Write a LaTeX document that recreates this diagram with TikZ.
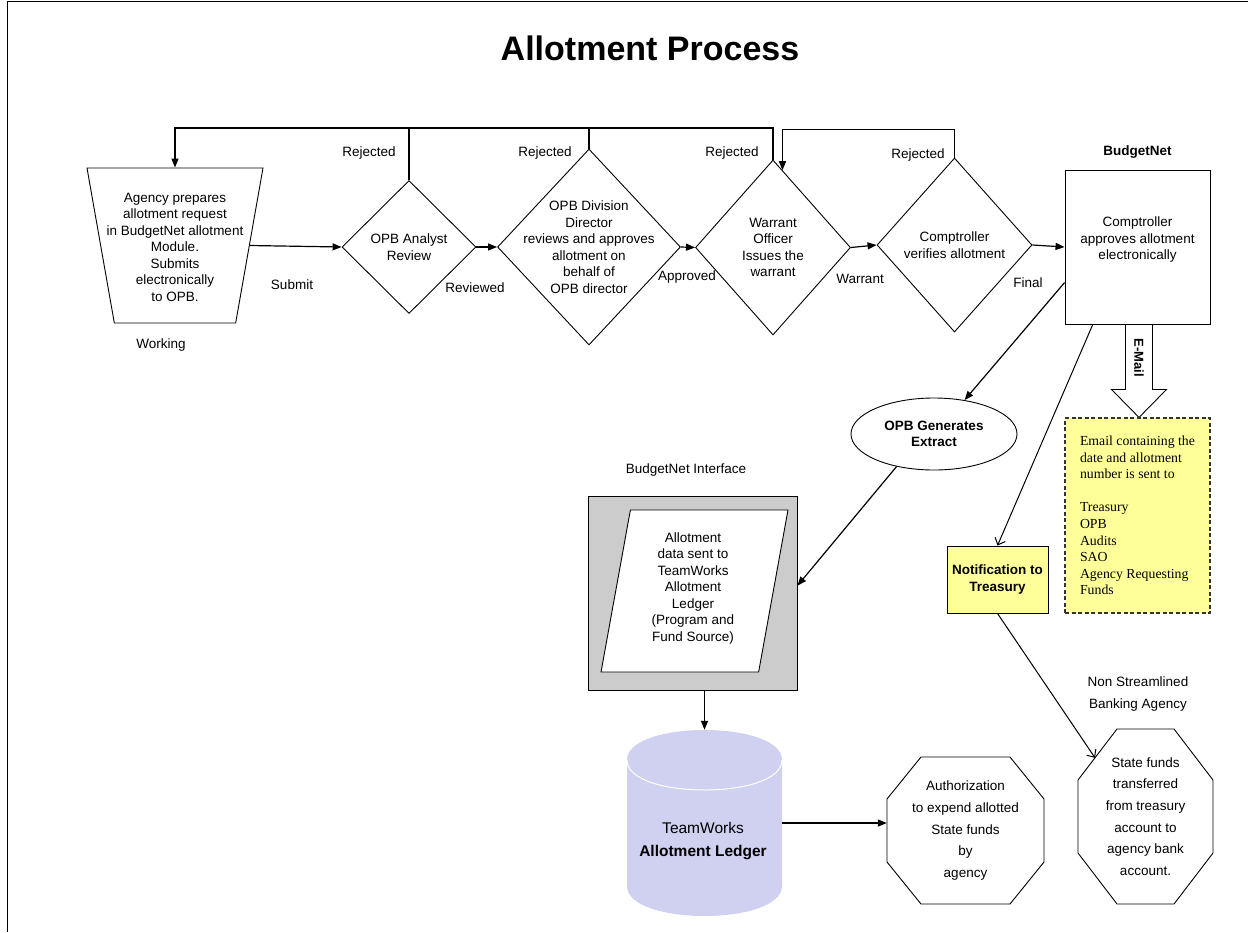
\documentclass[tikz,border=0pt]{standalone}
\usepackage{fontspec}
\setmainfont{Liberation Sans}
\newfontfamily\mailfont{Liberation Serif}
\usetikzlibrary{
    arrows.meta,
    shapes.geometric,
    positioning,
    calc
}
\definecolor{notefill}{RGB}{255,255,153}
\definecolor{ledgerfill}{RGB}{208,208,240}
\definecolor{portalfill}{RGB}{204,204,204}
\tikzset{
    base/.style={font=\fontsize{13.5}{16.5}\selectfont, align=center},
    decision/.style={draw, diamond, line width=0.9pt, inner sep=2pt},
    boxed/.style={draw, line width=0.9pt, inner sep=2pt},
    flow/.style={-{Triangle[length=9pt,width=7pt]}, line width=1.2pt},
    notify/.style={-{Straight Barb[length=6pt,width=11pt]}, line width=1pt},
    bold/.style={font=\bfseries\fontsize{13.5}{16.5}\selectfont}
}

\begin{document}
\begin{tikzpicture}[x=1pt, y=-1pt, every node/.style={base}]
\useasboundingbox (0,0) rectangle (1248,932);
\draw[line width=1.6pt] (7.5,932) -- (7.5,1.5) -- (1248,1.5);
\node[font=\bfseries\fontsize{34}{40}\selectfont] (title) at (650,48) {Allotment Process};

\node[boxed, trapezium, shape border rotate=180, trapezium angle=77.3,
    trapezium stretches=true, minimum width=176, minimum height=155]
    (agency) at (175,245.5) {};
\node (agencytext) at (175,247) {Agency prepares\\allotment request\\in BudgetNet allotment\\Module.\\Submits\\electronically\\to OPB.};
\node (working) at (161,345) {Working};

\node[decision, minimum width=134, minimum height=133] (review) at (409,247) {};
\node (reviewtext) at (review) {OPB Analyst\\Review};
\node[decision, minimum width=183, minimum height=196] (director) at (589,247) {};
\node (directortext) at (director) {OPB Division\\Director\\reviews and approves\\allotment on\\behalf of\\OPB director};
\node[decision, minimum width=155, minimum height=175] (officer) at (773,247.5) {};
\node (officertext) at (officer) {Warrant\\Officer\\Issues the\\warrant};
\node[decision, minimum width=155, minimum height=174] (verify) at (954.5,245) {};
\node (verifytext) at (verify) {Comptroller\\verifies allotment};
\node[boxed, minimum width=145, minimum height=154] (approve) at (1137.5,247) {};
\node (approvetext) at (1137.5,240) {Comptroller\\approves allotment\\electronically};
\node[bold, above=8pt of approve] (budgetnet) {BudgetNet};

% forward path
\draw[flow] (agency.east) -- (review.west);
\draw[flow] (review.east) -- (director.west);
\draw[flow] (director.east) -- (officer.west);
\draw[flow] (officer.east) -- (verify.west);
\draw[flow] (verify.east) -- (approve.west);
\node (submit) at (292,285) {Submit};
\node (reviewed) at (475,288) {Reviewed};
\node (approved) at (687,277) {Approved};
\node (warrant) at (860,279) {Warrant};
\node (final) at (1028,283) {Final};

% rejections
\coordinate (loopa) at (0,128);
\coordinate (loopb) at (0,129.5);
\draw[flow] (officer.north) -- (officer.north |- loopa) -| (agency.north);
\draw[line width=1.2pt] (review.north) -- (review.north |- loopa);
\draw[line width=1.2pt] (director.north) -- (director.north |- loopa);
\draw[flow] (verify.north) -- (verify.north |- loopb) -| (officer.83);
\node (rej1) at (369,153) {Rejected};
\node (rej2) at (545,153) {Rejected};
\node (rej3) at (732,153) {Rejected};
\node (rej4) at (918,155) {Rejected};

% e-mail
\draw[line width=0.9pt, shift={(approve.south)}]
    (-12,0) -- (-12,65) -- (-26,65) -- (1.5,93) -- (29,65) -- (15,65) -- (15,0);
\node[rotate=-90, font=\bfseries\fontsize{13}{16}\selectfont] (mailtag) at (1139,358) {E-Mail};
\node[draw=black!80, line width=1.1pt, dash pattern=on 4pt off 2.5pt, fill=notefill,
    minimum width=145, minimum height=195, align=left, xshift=-2pt,
    font=\mailfont\fontsize{13.8}{16.6}\selectfont] (mailbox) at (1139.5,515.5)
    {Email containing the\\date and allotment\\number is sent to\\[16.6pt]Treasury\\OPB\\Audits\\SAO\\Agency Requesting\\Funds};

% extract
\node[boxed, ellipse, minimum width=166, minimum height=72, bold] (extract) at (934,434) {OPB Generates\\Extract};
\draw[flow] (approve.206) -- (extract.48);

\node (interfacetag) at (686,470) {BudgetNet Interface};
\node[boxed, fill=portalfill, minimum width=209, minimum height=194] (interface) at (692.5,593) {};
\node[boxed, fill=white, trapezium, trapezium left angle=77.1, trapezium right angle=102.9,
    trapezium stretches=true, minimum width=187, minimum height=162]
    (datasent) at (694.5,591) {};
\node (datasenttext) at (693,588) {Allotment\\data sent to\\TeamWorks\\Allotment\\Ledger\\(Program and\\Fund Source)};
\draw[flow] (extract.221) -- (interface.4);

% ledger
\node[minimum width=155, minimum height=186, inner sep=0pt] (ledger) at (704.5,823) {};
\fill[ledgerfill] (627,760) -- (627,886) .. controls (627,926) and (782,926) .. (782,886)
    -- (782,760) .. controls (782,720) and (627,720) .. (627,760) -- cycle;
\draw[white, line width=1pt] (627,760) .. controls (627,800) and (782,800) .. (782,760);
\node[font=\fontsize{15.5}{23}\selectfont] (ledgertag) at (703,841) {TeamWorks\\\textbf{Allotment Ledger}};
\draw[flow] (interface.south -| ledger.north) -- (ledger.north);

\node[minimum width=157, minimum height=147, inner sep=0pt,
    font=\fontsize{13.5}{21.7}\selectfont] (authorize) at (965.5,830.5)
    {Authorization\\to expend allotted\\State funds\\by\\agency};
\draw[line width=0.9pt, shift={(authorize.center)}]
    (-44.5,-73.5) -- (44.5,-73.5) -- (78.5,-31.5) -- (78.5,31.5) -- (44.5,73.5)
    -- (-44.5,73.5) -- (-78.5,31.5) -- (-78.5,-31.5) -- cycle;
\draw[flow] (ledger.east) -- (ledger.east -| authorize.west);

% treasury
\node[boxed, fill=notefill, minimum width=101, minimum height=67, bold] (notify) at (997.5,579.5) {Notification to\\Treasury};
\draw[notify] (approve.240) -- (notify.north);
\node[font=\fontsize{13.5}{22}\selectfont] (bankingtag) at (1138,694) {Non Streamlined\\Banking Agency};
\node[minimum width=135, minimum height=175, inner sep=0pt,
    font=\fontsize{13.5}{21.7}\selectfont] (transfer) at (1145.5,816.5)
    {State funds\\transferred\\from treasury\\account to\\agency bank\\account.};
\draw[line width=0.9pt, shift={(transfer.center)}]
    (-28.5,-87.5) -- (28.5,-87.5) -- (67.5,-36.5) -- (67.5,36.5) -- (28.5,87.5)
    -- (-28.5,87.5) -- (-67.5,36.5) -- (-67.5,-36.5) -- cycle;
\coordinate (transferin) at ($(transfer.center)+(-50.5,-58.7)$);
\draw[notify] (notify.south) -- (transferin);
\end{tikzpicture}
\end{document}
